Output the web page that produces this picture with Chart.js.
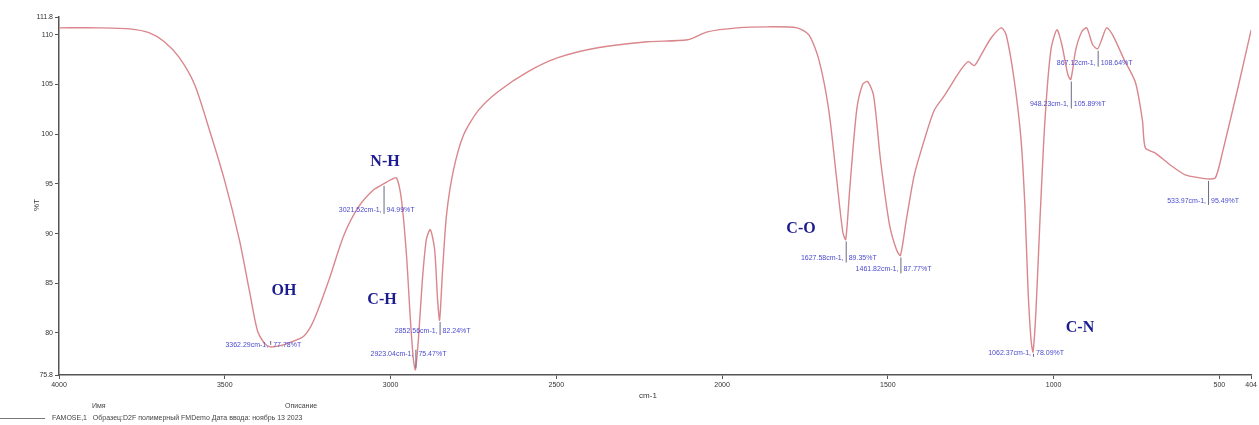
<!DOCTYPE html>
<html>
<head>
<meta charset="utf-8">
<script src="https://cdn.jsdelivr.net/npm/chart.js@4/dist/chart.umd.min.js"></script>
<style>
  html, body { margin: 0; padding: 0; background: #fff; }
  #wrap { position: relative; width: 1259px; height: 425px; }
  .cap { position: absolute; font: 7px 'Liberation Sans', Arial, sans-serif; color: #444; white-space: nowrap; }
  #legLine { position: absolute; left: 0; top: 418px; width: 45px; height: 0; border-top: 1px solid #777; }
</style>
</head>
<body>
<div id="wrap">
  <canvas id="ir" width="1259" height="425"></canvas>
  <div class="cap" style="left:92px; top:402px;">Имя</div>
  <div class="cap" style="left:285px; top:402px;">Описание</div>
  <div id="legLine"></div>
  <div class="cap" style="left:52px; top:414px;">FAMOSE,1&nbsp;&nbsp; Образец:D2F полимерный FMDemo Дата ввода: ноябрь 13 2023</div>
</div>
<script>
// IR spectrum, %T vs wavenumber

// wavenumbers (cm-1)
const wavenumbers = [
    4000, 3877, 3787, 3727, 3682, 3637, 3591, 3546, 3501, 3456, 3426, 3402, 3381, 3363, 3336, 3306,
    3261, 3231, 3186, 3141, 3096, 3051, 3021, 3000, 2982, 2967, 2952, 2940, 2931, 2925, 2916, 2904,
    2892, 2880, 2867, 2858, 2852, 2843, 2831, 2810, 2780, 2735, 2675, 2585, 2495, 2375, 2225, 2104,
    2044, 1954, 1864, 1774, 1738, 1708, 1678, 1654, 1636, 1627, 1615, 1594, 1576, 1561, 1543, 1522,
    1495, 1474, 1462, 1444, 1420, 1390, 1360, 1329, 1299, 1275, 1257, 1239, 1218, 1188, 1158, 1143,
    1119, 1098, 1086, 1077, 1068, 1062, 1053, 1041, 1026, 1008, 990, 975, 957, 948, 933, 915,
    900, 882, 867, 855, 840, 822, 787, 753, 732, 723, 693, 648, 603, 558, 534, 512,
    491, 443, 404
];

// transmittance (%T)
const transmittance = [
    110.7, 110.7, 110.6, 110.2, 109.3, 107.7, 105.0, 100.4, 95.4, 89.4, 84.3, 80.3, 79.0, 78.6, 78.7, 79.0,
    79.7, 81.3, 85.3, 89.8, 92.7, 94.4, 95.0, 95.4, 95.6, 93.4, 87.9, 81.3, 77.3, 76.3, 79.3, 85.3,
    89.4, 90.4, 88.4, 83.3, 81.3, 86.3, 91.9, 96.4, 99.9, 102.4, 104.3, 106.3, 107.7, 108.7, 109.3, 109.5,
    110.3, 110.7, 110.8, 110.7, 110.0, 107.5, 102.4, 95.4, 90.2, 89.4, 94.4, 102.4, 105.0, 105.3, 103.9, 97.4,
    90.9, 88.4, 87.8, 91.4, 95.9, 99.4, 102.4, 103.9, 105.5, 106.7, 107.3, 106.9, 108.0, 109.7, 110.7, 110.0,
    105.5, 99.4, 92.4, 84.3, 79.3, 78.1, 82.3, 91.4, 101.4, 108.5, 110.5, 109.0, 106.0, 105.5, 108.5, 110.3,
    110.7, 109.0, 108.6, 109.5, 110.7, 110.0, 107.5, 105.2, 101.4, 98.6, 98.1, 96.9, 95.9, 95.6, 95.5, 95.6,
    98.1, 104.8, 110.5
];

// picked peaks
const peakWn = [3363, 3021, 2925, 2852, 1627, 1462, 1062, 948, 867, 534];
const peakT = [78.6, 95.0, 76.3, 81.3, 89.4, 87.8, 78.1, 105.5, 108.6, 95.5];
const peakText = [
    ['3362.29cm-1,', '77.78%T'],
    ['3021.52cm-1,', '94.99%T'],
    ['2923.04cm-1,', '75.47%T'],
    ['2852.56cm-1,', '82.24%T'],
    ['1627.58cm-1,', '89.35%T'],
    ['1461.82cm-1,', '87.77%T'],
    ['1062.37cm-1,', '78.09%T'],
    ['948.23cm-1,', '105.89%T'],
    ['867.12cm-1,', '108.64%T'],
    ['533.97cm-1,', '95.49%T']
];

// group labels
const groupNames = ['N-H', 'OH', 'C-H', 'C-O', 'C-N'];

const xTicks = [4000, 3500, 3000, 2500, 2000, 1500, 1000, 500, 404];
const yTicks = [75.77, 80, 85, 90, 95, 100, 105, 110, 111.79];

// where each text sits relative to its peak (px)
const peakLayout = [
    { dy: -2 }, { dy: 26 }, { dy: -16 }, { dy: 11 }, { dy: 19 },
    { dy: 14 }, { dy: 1 }, { dy: 25 }, { dy: 14 }, { dy: 22 }
];
const groupLayout = [
    { x: 385, y: 162 }, { x: 284, y: 291 }, { x: 382, y: 300 }, { x: 801, y: 229 }, { x: 1080, y: 328 }
];

const labelsPlugin = {
    id: 'peakLabels',
    afterDatasetsDraw(chart) {
        const ctx = chart.ctx;
        const xs = chart.scales.x, ys = chart.scales.y;
        ctx.save();
        ctx.font = "7px 'Liberation Sans', Arial, sans-serif";
        ctx.textBaseline = 'middle';
        peakWn.forEach((wn, i) => {
            const px = xs.getPixelForValue(wn);
            const py = ys.getPixelForValue(peakT[i]);
            const ty = py + peakLayout[i].dy;
            // pointer
            ctx.strokeStyle = '#6a6a80';
            ctx.lineWidth = 1;
            ctx.beginPath();
            ctx.moveTo(px + 0.5, py + (ty > py ? 2 : -2));
            ctx.lineTo(px + 0.5, ty + (ty > py ? 4 : -4));
            ctx.stroke();
            ctx.fillStyle = '#4b4bd0';
            ctx.textAlign = 'right';
            ctx.fillText(peakText[i][0], px - 2, ty);
            ctx.textAlign = 'left';
            ctx.fillText(peakText[i][1], px + 3, ty);
        });
        ctx.font = "bold 16px 'Liberation Serif', 'Times New Roman', serif";
        ctx.fillStyle = '#1c1c90';
        ctx.textAlign = 'center';
        groupNames.forEach((g, i) => {
            ctx.fillText(g, groupLayout[i].x, groupLayout[i].y);
        });
        // axis titles
        ctx.font = "8px 'Liberation Sans', Arial, sans-serif";
        ctx.fillStyle = '#333';
        ctx.fillText('cm-1', 648, 396);
        ctx.translate(37, 205);
        ctx.rotate(-Math.PI / 2);
        ctx.fillText('%T', 0, 0);
        ctx.restore();
    }
};

const points = wavenumbers.map((w, i) => ({ x: w, y: transmittance[i] }));

new Chart(document.getElementById('ir'), {
    type: 'line',
    data: {
        datasets: [{
            label: 'FAMOSE,1',
            data: points,
            borderColor: '#d9868c',
            borderWidth: 1.4,
            pointRadius: 0,
            tension: 0.25,
            fill: false
        }]
    },
    options: {
        responsive: false,
        animation: false,
        layout: { padding: { left: 0, right: 3, top: 17, bottom: 0 } },
        plugins: {
            legend: { display: false },
            tooltip: { enabled: false }
        },
        scales: {
            x: {
                type: 'linear',
                reverse: true,
                min: 404,
                max: 4000,
                afterBuildTicks: s => { s.ticks = xTicks.map(v => ({ value: v })); },
                afterFit: s => { s.height = 50; },
                ticks: {
                    color: '#333',
                    maxRotation: 0,
                    autoSkip: false,
                    padding: 2,
                    font: { size: 7, family: "'Liberation Sans', Arial, sans-serif" },
                    callback: v => String(v)
                },
                grid: { drawOnChartArea: false, drawTicks: true, tickLength: 4, color: '#555' },
                border: { color: '#555', width: 1.5 }
            },
            y: {
                min: 75.77,
                max: 111.79,
                afterBuildTicks: s => { s.ticks = yTicks.map(v => ({ value: v })); },
                afterFit: s => { s.width = 59; },
                ticks: {
                    color: '#333',
                    autoSkip: false,
                    padding: 2,
                    font: { size: 7, family: "'Liberation Sans', Arial, sans-serif" },
                    callback: v => Number.isInteger(v) ? String(v) : v.toFixed(1)
                },
                grid: { drawOnChartArea: false, drawTicks: true, tickLength: 4, color: '#555' },
                border: { color: '#555', width: 1.5 }
            }
        }
    },
    plugins: [labelsPlugin]
});
</script>
</body>
</html>
